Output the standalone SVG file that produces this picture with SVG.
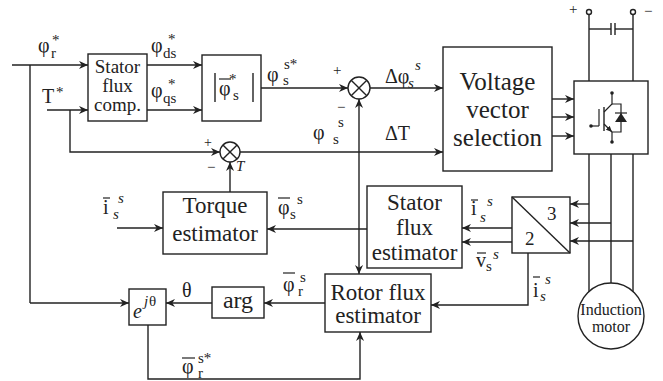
<svg xmlns="http://www.w3.org/2000/svg" width="663" height="381" viewBox="0 0 663 381">
<defs>
<marker id="ar" viewBox="0 0 10 10" refX="10" refY="5" markerWidth="9" markerHeight="9" markerUnits="userSpaceOnUse" orient="auto">
<path d="M0,0.5 L10,5 L0,9.5 L3,5 z" fill="#222"/>
</marker>
<marker id="ars" viewBox="0 0 10 10" refX="10" refY="5" markerWidth="6" markerHeight="6" markerUnits="userSpaceOnUse" orient="auto">
<path d="M0,0.5 L10,5 L0,9.5 z" fill="#222"/>
</marker>
</defs>
<style>
.b{fill:#fff;stroke:#222;stroke-width:1.4}
.w{fill:none;stroke:#222;stroke-width:1.4}
.o{fill:none;stroke:#222;stroke-width:1.2}
.a{fill:none;stroke:#222;stroke-width:1.4;marker-end:url(#ar)}
text{fill:#222;font-family:'Liberation Serif','DejaVu Serif',serif}
.t{font-size:23px;text-anchor:middle}
.l{font-size:20px}
.s{font-size:15px}
.i{font-style:italic}
</style>
<rect width="663" height="381" fill="#fff"/>

<g id="connectors">
<polyline class="a" points="12,65 88,65"/>
<polyline class="w" points="30,65 30,303"/>
<polyline class="a" points="30,303 129,303"/>
<polyline class="a" points="47,110 88,110"/>
<polyline class="a" points="70,110 70,152 220,152"/>
<polyline class="a" points="147,65 202,65"/>
<polyline class="a" points="147,110 202,110"/>
<polyline class="a" points="261,88 348,88"/>
<polyline class="a" points="370,88 443,88"/>
<polyline class="a" points="240,152 443,152"/>
<polyline class="a" points="230,192 230,162"/>
<polyline class="a" points="359,229 359,99"/>
<polyline class="a" points="359,229 359,274"/>
<polyline class="a" points="367,229 267,229"/>
<polyline class="a" points="117,228 163,228"/>
<polyline class="a" points="512,228 462,228"/>
<polyline class="a" points="512,242 462,242"/>
<polyline class="a" points="528,253 528,305 431,305"/>
<polyline class="a" points="325,303 264,303"/>
<polyline class="a" points="212,303 166,303"/>
<polyline class="a" points="148,325 148,379 360,379 360,332"/>
<polyline class="a" points="552,99 574,99"/>
<polyline class="a" points="552,117 574,117"/>
<polyline class="a" points="552,136 574,136"/>
<polyline class="w" points="589,154 589,292"/>
<polyline class="w" points="611,154 611,283"/>
<polyline class="w" points="633,154 633,292"/>
<polyline class="a" points="589,204 570,204"/>
<polyline class="a" points="611,223 570,223"/>
<polyline class="a" points="633,241 570,241"/>
<polyline class="w" points="589,81 589,14.5"/>
<polyline class="w" points="633,81 633,14.5"/>
<polyline class="w" points="589,29 611,29"/>
<polyline class="w" points="615,29 633,29"/>
<line class="w" x1="611" y1="23" x2="611" y2="35"/>
<line class="w" x1="615" y1="23" x2="615" y2="35"/>
<circle class="b" cx="589" cy="12" r="2.5"/>
<circle class="b" cx="633" cy="12" r="2.5"/>
</g>

<g id="sum1">
<circle class="b" cx="359" cy="88" r="11"/>
<line class="w" x1="351.2" y1="80.2" x2="366.8" y2="95.8"/>
<line class="w" x1="366.8" y1="80.2" x2="351.2" y2="95.8"/>
</g>
<g id="sum2">
<circle class="b" cx="230" cy="152" r="10"/>
<line class="w" x1="222.9" y1="144.9" x2="237.1" y2="159.1"/>
<line class="w" x1="237.1" y1="144.9" x2="222.9" y2="159.1"/>
</g>

<g id="stator-flux-comp">
<rect class="b" x="88" y="54" width="59" height="67"/>
<text class="t" style="font-size:19px" x="117.5" y="73">Stator</text>
<text class="t" style="font-size:19px" x="117.5" y="92">flux</text>
<text class="t" style="font-size:19px" x="117.5" y="111">comp.</text>
</g>

<g id="magnitude">
<rect class="b" x="202" y="55" width="59" height="66"/>
<line class="w" x1="215" y1="73" x2="215" y2="102"/>
<line class="w" x1="253" y1="73" x2="253" y2="102"/>
<line class="o" x1="219" y1="79" x2="231" y2="79"/>
<text class="l"><tspan x="219" y="95">φ</tspan><tspan class="s" x="229" y="84">*</tspan><tspan class="s" x="233" y="100">s</tspan></text>
</g>

<g id="voltage-vector-selection">
<rect class="b" x="443" y="47" width="109" height="124"/>
<text class="t" style="font-size:25px" x="497.5" y="90">Voltage</text>
<text class="t" style="font-size:25px" x="497.5" y="118">vector</text>
<text class="t" style="font-size:25px" x="497.5" y="146">selection</text>
</g>

<g id="inverter">
<rect class="b" x="574" y="81" width="74" height="73"/>
<circle cx="612" cy="93" r="1.8" fill="#222"/>
<circle cx="612" cy="142" r="1.8" fill="#222"/>
<circle cx="591" cy="126" r="1.8" fill="#222"/>
<polyline class="o" points="612,93 612,104 604,112"/>
<polyline class="o" points="612,104 621,104 621,132 612,132 612,142"/>
<line x1="604" y1="124" x2="612" y2="132" stroke="#222" stroke-width="1.2" marker-end="url(#ars)"/>
<line class="w" x1="604" y1="107" x2="604" y2="131"/>
<line class="o" x1="599" y1="109" x2="599" y2="126"/>
<line class="o" x1="591" y1="126" x2="599" y2="126"/>
<path d="M615,122 L627,122 L621,113 z" fill="#222"/>
<line class="o" x1="615" y1="113" x2="627" y2="113"/>
</g>

<g id="torque-estimator">
<rect class="b" x="163" y="192" width="104" height="62"/>
<text class="t" x="215" y="213">Torque</text>
<text class="t" x="215" y="241">estimator</text>
</g>

<g id="stator-flux-estimator">
<rect class="b" x="367" y="186" width="95" height="82"/>
<text class="t" x="414.5" y="210">Stator</text>
<text class="t" x="414.5" y="235">flux</text>
<text class="t" x="414.5" y="260">estimator</text>
</g>

<g id="converter-3-2">
<rect class="b" x="512" y="197" width="58" height="56"/>
<line class="w" x1="512" y1="197" x2="570" y2="253"/>
<text style="font-size:19px" x="547" y="220">3</text>
<text style="font-size:19px" x="525" y="245">2</text>
</g>

<g id="rotor-flux-estimator">
<rect class="b" x="325" y="274" width="106" height="58"/>
<text class="t" x="378" y="300">Rotor flux</text>
<text class="t" x="378" y="323">estimator</text>
</g>

<g id="arg">
<rect class="b" x="212" y="287" width="52" height="31"/>
<text class="t" style="font-size:24px" x="238" y="308">arg</text>
</g>

<g id="ejtheta">
<rect class="b" x="129" y="289" width="37" height="36"/>
<text class="l"><tspan class="i" x="133" y="318">e</tspan><tspan class="s i" x="144" y="306">j</tspan><tspan class="s" x="149" y="306">θ</tspan></text>
</g>

<g id="motor">
<circle class="b" cx="611" cy="316" r="33"/>
<text style="font-size:16px;text-anchor:middle" x="611" y="315">Induction</text>
<text style="font-size:16px;text-anchor:middle" x="611" y="332">motor</text>
</g>

<g id="labels">
<text class="l"><tspan x="38" y="52">φ</tspan><tspan class="s" x="51" y="58">r</tspan><tspan class="s" x="52" y="45">*</tspan></text>

<text class="l"><tspan x="42" y="103">T</tspan><tspan class="s" x="56" y="97">*</tspan></text>

<text class="l"><tspan x="151" y="52">φ</tspan><tspan class="s" x="163" y="58">ds</tspan><tspan class="s" x="168" y="44">*</tspan></text>

<text class="l"><tspan x="151" y="97">φ</tspan><tspan class="s" x="163" y="103">qs</tspan><tspan class="s" x="168" y="89">*</tspan></text>

<text class="l"><tspan x="267" y="81">φ</tspan><tspan class="s" x="283" y="85">s</tspan><tspan class="s" x="284" y="69">s*</tspan></text>

<text style="font-size:15px" x="333" y="75">+</text>
<text style="font-size:15px" x="337" y="112">−</text>

<text class="l"><tspan x="385" y="83">Δφ</tspan><tspan class="s i" x="408" y="88">s</tspan><tspan class="s i" x="415" y="70">s</tspan></text>

<text class="l"><tspan x="313" y="139">φ</tspan><tspan class="s" x="333" y="144">s</tspan><tspan class="s" x="338" y="127">s</tspan></text>

<text class="l" x="385" y="140">ΔT</text>

<text style="font-size:14px" x="204" y="147">+</text>
<text style="font-size:15px" x="207" y="172">−</text>
<text class="s i" x="236" y="171">T</text>

<line class="o" x1="103" y1="198" x2="110" y2="198"/>
<text class="l"><tspan x="103" y="214">i</tspan><tspan class="s i" x="113" y="219">s</tspan><tspan class="s i" x="118" y="203">s</tspan></text>

<line class="o" x1="278" y1="198" x2="290" y2="198"/>
<text class="l"><tspan x="278" y="214">φ</tspan><tspan class="s" x="290" y="219">s</tspan><tspan class="s" x="297" y="204">s</tspan></text>

<line class="o" x1="471" y1="200" x2="478" y2="200"/>
<text class="l"><tspan x="471" y="215">i</tspan><tspan class="s i" x="480" y="222">s</tspan><tspan class="s i" x="487" y="206">s</tspan></text>

<line class="o" x1="477" y1="253" x2="486" y2="253"/>
<text class="l"><tspan x="476" y="267">v</tspan><tspan class="s" x="486" y="271">s</tspan><tspan class="s i" x="493" y="259">s</tspan></text>

<line class="o" x1="283" y1="273" x2="295" y2="273"/>
<text class="l"><tspan x="283" y="291">φ</tspan><tspan class="s" x="298" y="296">r</tspan><tspan class="s" x="300" y="282">s</tspan></text>

<line class="o" x1="533" y1="277" x2="540" y2="277"/>
<text class="l"><tspan x="533" y="297">i</tspan><tspan class="s i" x="540" y="301">s</tspan><tspan class="s i" x="545" y="284">s</tspan></text>

<text class="l" x="182" y="297">θ</text>

<line class="o" x1="182" y1="358" x2="195" y2="358"/>
<text class="l"><tspan x="182" y="373">φ</tspan><tspan class="s" x="198" y="378">r</tspan><tspan class="s" x="198" y="363">s*</tspan></text>

<text style="font-size:15px" x="569" y="14">+</text>
<text style="font-size:15px" x="644" y="16">−</text>
</g>
</svg>
